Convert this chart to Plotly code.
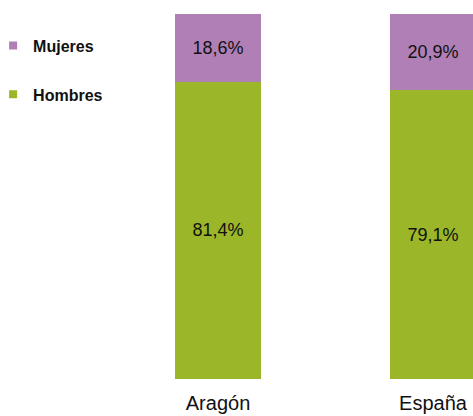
import plotly.graph_objects as go

regiones = ["Aragón", "España"]
hombres = [81.4, 79.1]
mujeres = [18.6, 20.9]
etiquetas_h = ["81,4%", "79,1%"]
etiquetas_m = ["18,6%", "20,9%"]

verde = "#9BB628"
morado = "#B07FB6"


def main():
    fig = go.Figure()
    fig.add_trace(go.Bar(x=regiones, y=hombres, text=etiquetas_h, name="Hombres",
                         marker=dict(color=verde, line=dict(width=0)),
                         textposition="inside", insidetextanchor="middle",
                         textfont=dict(size=18, color="#111111"),
                         showlegend=False, hoverinfo="skip"))
    fig.add_trace(go.Bar(x=regiones, y=mujeres, text=etiquetas_m, name="Mujeres",
                         marker=dict(color=morado, line=dict(width=0)),
                         textposition="inside", insidetextanchor="middle",
                         textfont=dict(size=18, color="#111111"),
                         showlegend=False, hoverinfo="skip"))
    # legend entries with small square keys
    fig.add_trace(go.Scatter(x=[None], y=[None], mode="markers", name="Mujeres",
                             marker=dict(symbol="square", size=8, color=morado),
                             legendgroup="m", legendrank=1))
    fig.add_trace(go.Scatter(x=[None], y=[None], mode="markers", name="Hombres",
                             marker=dict(symbol="square", size=8, color=verde),
                             legendgroup="h", legendrank=2))

    fig.update_layout(
        width=473, height=416,
        margin=dict(l=0, r=0, t=14, b=37, autoexpand=False),
        barmode="stack", bargap=0.6,
        plot_bgcolor="white", paper_bgcolor="white",
        font=dict(family="Liberation Sans, Arial, sans-serif", color="#111111"),
        uniformtext=dict(mode="show", minsize=10),
        legend=dict(x=-0.0146, y=0.96, xanchor="left", yanchor="top",
                    traceorder="grouped", tracegroupgap=25,
                    font=dict(size=16, color="#111111", weight="bold"),
                    bgcolor="rgba(0,0,0,0)"),
        showlegend=True,
    )
    fig.update_xaxes(type="category", range=[-1.014, 1.186], showgrid=False,
                     showline=False, ticks="", tickfont=dict(size=20),
                     ticklabelstandoff=10)
    fig.update_yaxes(range=[0, 100], visible=False)
    # drop the default body margin so the figure fills the window
    fig.write_html("out.html", config={"displayModeBar": False},
                   post_script="document.body.style.margin='0';document.body.style.overflow='hidden';")


if __name__ == "__main__":
    main()
